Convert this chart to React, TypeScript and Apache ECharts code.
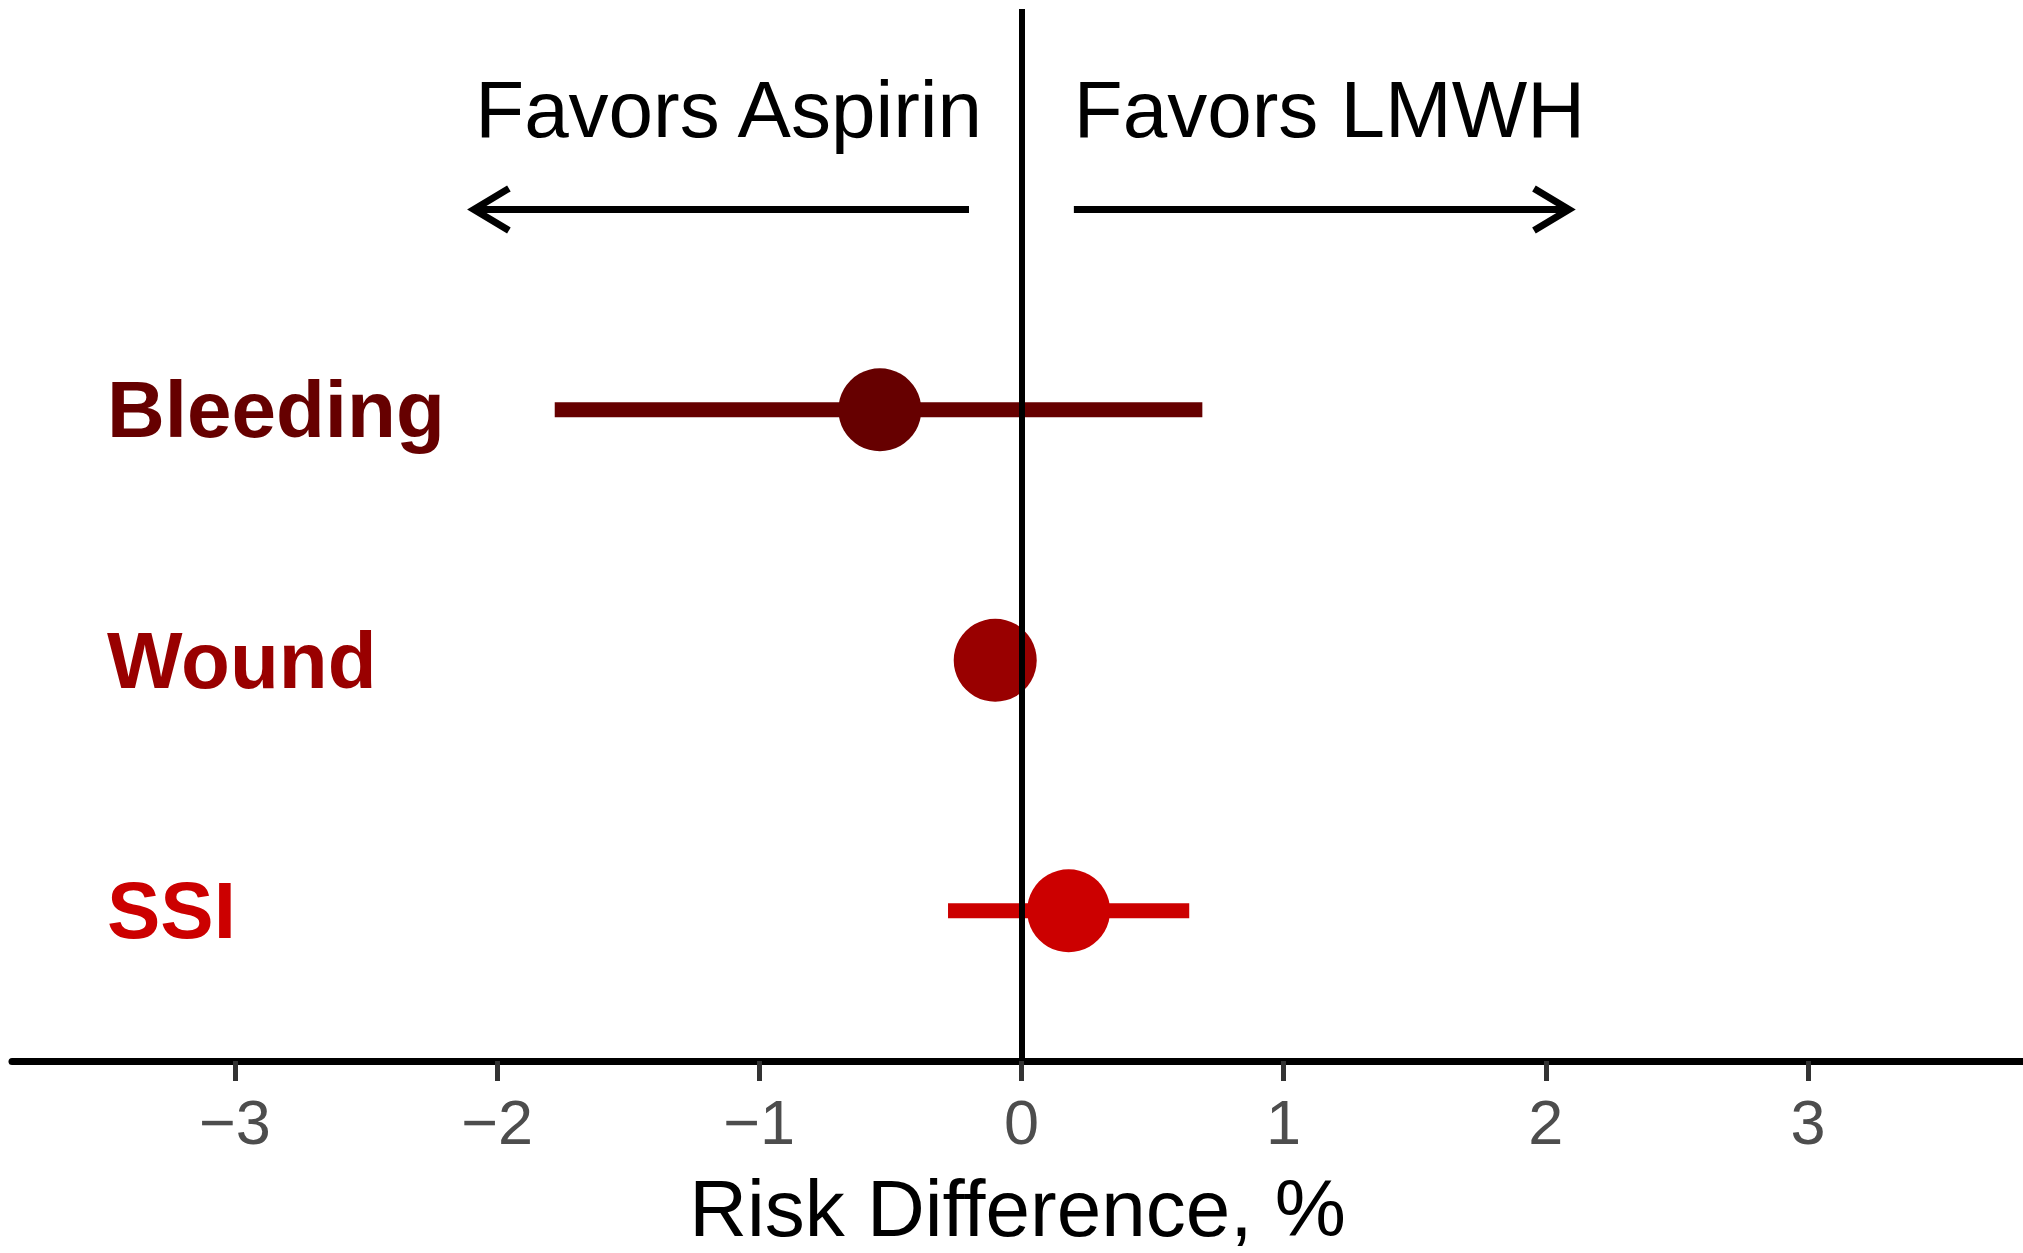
import React, { useEffect, useRef } from "react";
import * as echarts from "echarts";

// ---- data ----
const categories = ["Bleeding", "Wound", "SSI"];
const rowPositions = [3, 2, 1];
const estimates = [-0.54, -0.1, 0.18];
const ciLower: (number | null)[] = [-1.78, null, -0.28];
const ciUpper: (number | null)[] = [0.69, null, 0.64];
const rowColors = ["#660000", "#990000", "#CC0000"];
const xTickValues = [-3, -2, -1, 0, 1, 2, 3];
const xAxisTitle = "Risk Difference, %";
const favorLabels = ["Favors Aspirin", "Favors LMWH"];
const favorLabelAnchor = [-0.15, 0.2];
const favorArrowStart = [-0.2, 0.2];
const favorArrowEnd = [-2.115, 2.115];
const favorLabelRow = 4.2;
const favorArrowRow = 3.8;

const FONT = "'Liberation Sans', Arial, Helvetica, sans-serif";

export default function App() {
  const ref = useRef<HTMLDivElement>(null);

  useEffect(() => {
    if (!ref.current) return;
    const chart = echarts.init(ref.current, undefined, { renderer: "svg" });

    const ciData = categories
      .map((c, i) => [ciLower[i], ciUpper[i], rowPositions[i], i])
      .filter((d) => d[0] !== null && d[1] !== null);

    const pointData = categories.map((c, i) => ({
      value: [estimates[i], rowPositions[i]],
      itemStyle: { color: rowColors[i], opacity: 1 },
    }));

    const favorData = favorLabels.map((t, i) => [
      favorArrowStart[i],
      favorArrowEnd[i],
      favorLabelAnchor[i],
      i,
    ]);

    const option: any = {
      animation: false,
      backgroundColor: "#ffffff",
      textStyle: { fontFamily: FONT },
      grid: { left: 12, right: 0, top: 9, bottom: 192, containLabel: false },
      xAxis: {
        type: "value",
        min: -3.85,
        max: 3.82,
        name: xAxisTitle,
        nameLocation: "middle",
        nameGap: 107,
        nameTextStyle: { fontSize: 80, color: "#000000", fontFamily: FONT },
        axisLine: { show: true, onZero: false, lineStyle: { color: "#000000", width: 7 } },
        axisTick: {
          show: true,
          customValues: xTickValues,
          length: 20,
          lineStyle: { color: "#333333", width: 5 },
        },
        axisLabel: {
          customValues: xTickValues,
          margin: 29,
          fontSize: 63,
          color: "#4D4D4D",
          fontFamily: FONT,
          formatter: (v: number) => (v < 0 ? "\u2212" + Math.abs(v) : String(v)),
        },
        splitLine: { show: false },
      },
      yAxis: {
        type: "value",
        min: 0.4,
        max: 4.6,
        axisLine: { show: false, onZero: false },
        axisTick: { show: false },
        splitLine: { show: false },
        axisLabel: {
          customValues: rowPositions,
          align: "left",
          margin: -95,
          fontSize: 80,
          fontWeight: "bold",
          fontFamily: FONT,
          formatter: (v: number) => {
            const i = rowPositions.indexOf(v);
            return i >= 0 ? categories[i] : "";
          },
          color: (v: any) => {
            const i = rowPositions.indexOf(Number(v));
            return i >= 0 ? rowColors[i] : "#000";
          },
        },
      },
      series: [
        {
          type: "custom",
          name: "ci",
          z: 2,
          data: ciData,
          renderItem: (params: any, api: any) => {
            const a = api.coord([api.value(0), api.value(2)]);
            const b = api.coord([api.value(1), api.value(2)]);
            const idx = api.value(3);
            return {
              type: "line",
              shape: { x1: a[0], y1: a[1], x2: b[0], y2: b[1] },
              style: { stroke: rowColors[idx], lineWidth: 15, lineCap: "butt" },
            };
          },
        },
        {
          type: "scatter",
          name: "estimate",
          z: 3,
          symbol: "circle",
          symbolSize: 83,
          itemStyle: { opacity: 1 },
          emphasis: { disabled: true },
          data: pointData,
        },
        {
          type: "custom",
          name: "favors",
          z: 4,
          data: favorData,
          renderItem: (params: any, api: any) => {
            const start = api.coord([api.value(0), favorArrowRow]);
            const end = api.coord([api.value(1), favorArrowRow]);
            const lab = api.coord([api.value(2), favorLabelRow]);
            const idx = api.value(3);
            const dir = end[0] > start[0] ? 1 : -1;
            const miter = 7;
            const tipX = end[0] - dir * miter;
            const headLen = 35;
            const headHalf = 21;
            return {
              type: "group",
              children: [
                {
                  type: "line",
                  shape: { x1: start[0], y1: start[1], x2: tipX - dir * 2, y2: end[1] },
                  style: { stroke: "#000", lineWidth: 7, lineCap: "butt" },
                },
                {
                  type: "polyline",
                  shape: {
                    points: [
                      [tipX - dir * headLen, end[1] - headHalf],
                      [tipX, end[1]],
                      [tipX - dir * headLen, end[1] + headHalf],
                    ],
                  },
                  style: { stroke: "#000", lineWidth: 7, fill: null, lineJoin: "miter", lineCap: "butt" },
                },
                {
                  type: "text",
                  x: lab[0],
                  y: lab[1],
                  style: {
                    text: favorLabels[idx],
                    fontSize: 80,
                    fontFamily: FONT,
                    fill: "#000",
                    align: dir < 0 ? "right" : "left",
                    verticalAlign: "middle",
                  },
                },
              ],
            };
          },
        },
        {
          type: "line",
          name: "zero",
          z: 10,
          data: [],
          markLine: {
            silent: true,
            symbol: ["none", "none"],
            label: { show: false },
            lineStyle: { color: "#000000", width: 6, type: "solid" },
            data: [{ xAxis: 0 }],
          },
        },
      ],
    };

    chart.setOption(option);
    return () => chart.dispose();
  }, []);

  return (
    <div
      ref={ref}
      style={{ position: "fixed", left: 0, top: 0, width: 2023, height: 1253, background: "#fff" }}
    />
  );
}
